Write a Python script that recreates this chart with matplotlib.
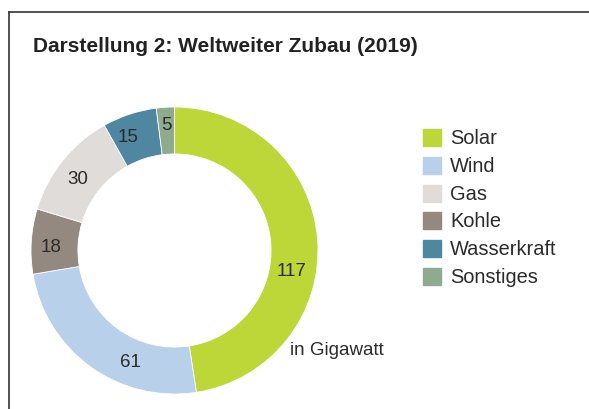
import matplotlib
matplotlib.use("Agg")
import matplotlib.pyplot as plt
from matplotlib.lines import Line2D
from matplotlib.patches import Rectangle
import numpy as np

plt.rcParams['font.family'] = ['Liberation Sans', 'DejaVu Sans']

# data
ring_names = ["Solar", "Wind", "Kohle", "Gas", "Wasserkraft", "Sonstiges"]
ring_values = [117, 61, 18, 30, 15, 5]
legend_names = ["Solar", "Wind", "Gas", "Kohle", "Wasserkraft", "Sonstiges"]
colors = {
    "Solar": "#bdd638",
    "Wind": "#b9d0ea",
    "Gas": "#dfdcd9",
    "Kohle": "#948980",
    "Wasserkraft": "#4f86a0",
    "Sonstiges": "#8eaa8f",
}
title = "Darstellung 2: Weltweiter Zubau (2019)"
unit = "in Gigawatt"

# label angle tweaks (degrees), same order as ring
label_shift = [-14, 14, 2, 2, 4, 0]
label_r = [0.83, 0.83, 0.86, 0.84, 0.86, 0.88]

W, H = 589, 410
fig = plt.figure(figsize=(W / 100, H / 100), dpi=100)
txt = "#2b2b2b"

# frame (top + left only visible)
fig.add_artist(Line2D([9 / W, 1], [1 - 13 / H, 1 - 13 / H], color="#333333", lw=1.2))
fig.add_artist(Line2D([9 / W, 9 / W], [0, 1 - 13 / H], color="#333333", lw=1.2))

fig.text(33 / W, 1 - 46 / H, title, fontsize=15, fontweight="bold", color="#222222",
         va="center", ha="left")

# donut
cx, cy, r = 174.5, 251.5, 143.5
ax = fig.add_axes([(cx - r) / W, (H - cy - r) / H, 2 * r / W, 2 * r / H])
wedges, _ = ax.pie(ring_values, colors=[colors[n] for n in ring_names],
                   startangle=90, counterclock=False, radius=1,
                   wedgeprops=dict(width=0.327, edgecolor="white", linewidth=0.6))
ax.set_xlim(-1, 1)
ax.set_ylim(-1, 1)
ax.set_aspect("equal")
ax.axis("off")

for i, w in enumerate(wedges):
    ang = np.deg2rad((w.theta1 + w.theta2) / 2 + label_shift[i])
    ax.text(label_r[i] * np.cos(ang), label_r[i] * np.sin(ang), str(ring_values[i]),
            ha="center", va="center", fontsize=13.5, color=txt)

fig.text(290 / W, 1 - 351 / H, unit, fontsize=13.5, color=txt, ha="left", va="center")

# legend
y0 = 138.5
step = 27.8
for i, name in enumerate(legend_names):
    yc = y0 + i * step
    fig.add_artist(Rectangle((423 / W, 1 - (yc + 8.5) / H), 18 / W, 17 / H,
                             color=colors[name], transform=fig.transFigure))
    fig.text(450 / W, 1 - yc / H, name, fontsize=14.4, color=txt, ha="left", va="center")

fig.savefig("out.png", dpi=100)
